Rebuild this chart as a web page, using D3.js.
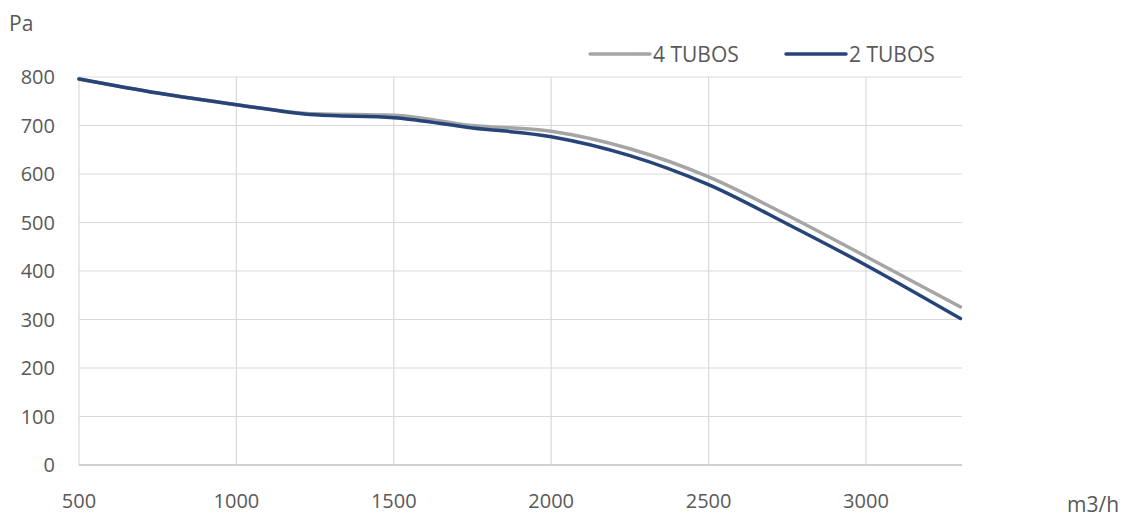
<!DOCTYPE html>
<html><head><meta charset="utf-8">
<script src="https://cdn.jsdelivr.net/npm/d3@7"></script>
<style>body{margin:0;background:#fff}text{font-family:"Open Sans",sans-serif;fill:#595959}</style>
</head><body><svg id="c" width="1139" height="518"></svg>
<script>
const flows = [500, 750, 1000, 1250, 1500, 1750, 2000, 2250, 2500, 2750, 3000, 3300];
const tubos4 = [796, 767, 743, 724, 721, 700, 688, 652, 594, 515, 430, 326];
const tubos2 = [796, 767, 743, 722, 716, 695, 677, 638, 578, 497, 412, 302];
const xTicks = [500, 1000, 1500, 2000, 2500, 3000];
const yTicks = [0, 100, 200, 300, 400, 500, 600, 700, 800];
const seriesNames = ["4 TUBOS", "2 TUBOS"];
const colors = ["#A5A5A5", "#264478"];

const svg = d3.select("#c");
const x = d3.scaleLinear().domain([500, 3305]).range([79, 962]);
const y = d3.scaleLinear().domain([0, 800]).range([465, 77]);

const g = svg.append("g");
g.selectAll(".hg").data(yTicks).join("line")
  .attr("x1", x(500)).attr("x2", x(3305)).attr("y1", d => y(d)).attr("y2", d => y(d))
  .attr("stroke", d => d === 0 ? "#bfbfbf" : "#d9d9d9").attr("stroke-width", d => d===0?1.5:1.2);
g.selectAll(".vg").data(xTicks).join("line")
  .attr("x1", d => x(d)).attr("x2", d => x(d)).attr("y1", y(800)).attr("y2", y(0))
  .attr("stroke", "#d9d9d9").attr("stroke-width", 1.2);

g.selectAll(".yl").data(yTicks).join("text")
  .attr("x", 55).attr("y", d => y(d)).attr("dy", "0.36em").attr("text-anchor", "end")
  .attr("font-size", 20).text(d => d);
g.selectAll(".xl").data(xTicks).join("text")
  .attr("x", d => x(d)).attr("y", 508).attr("text-anchor", "middle")
  .attr("font-size", 20).text(d => d);

svg.append("text").attr("x", 9).attr("y", 31).attr("font-size", 21).text("Pa");
svg.append("text").attr("x", 1067).attr("y", 512).attr("font-size", 21).text("m3/h");

const line = d3.line().x(d => x(d[0])).y(d => y(d[1])).curve(d3.curveMonotoneX);
[tubos4, tubos2].forEach((vals, i) => {
  svg.append("path").datum(flows.map((f, j) => [f, vals[j]]))
    .attr("d", line).attr("fill", "none").attr("stroke", colors[i])
    .attr("stroke-width", 3.5).attr("stroke-linecap", "round");
});

const legX = [590, 786];
seriesNames.forEach((n, i) => {
  svg.append("line").attr("x1", legX[i]).attr("x2", legX[i] + 60).attr("y1", 54).attr("y2", 54)
    .attr("stroke", colors[i]).attr("stroke-width", 3.5).attr("stroke-linecap", "round");
  svg.append("text").attr("x", legX[i] + 63).attr("y", 54).attr("dy", "0.36em")
    .attr("font-size", 21).text(n);
});
</script></body></html>
